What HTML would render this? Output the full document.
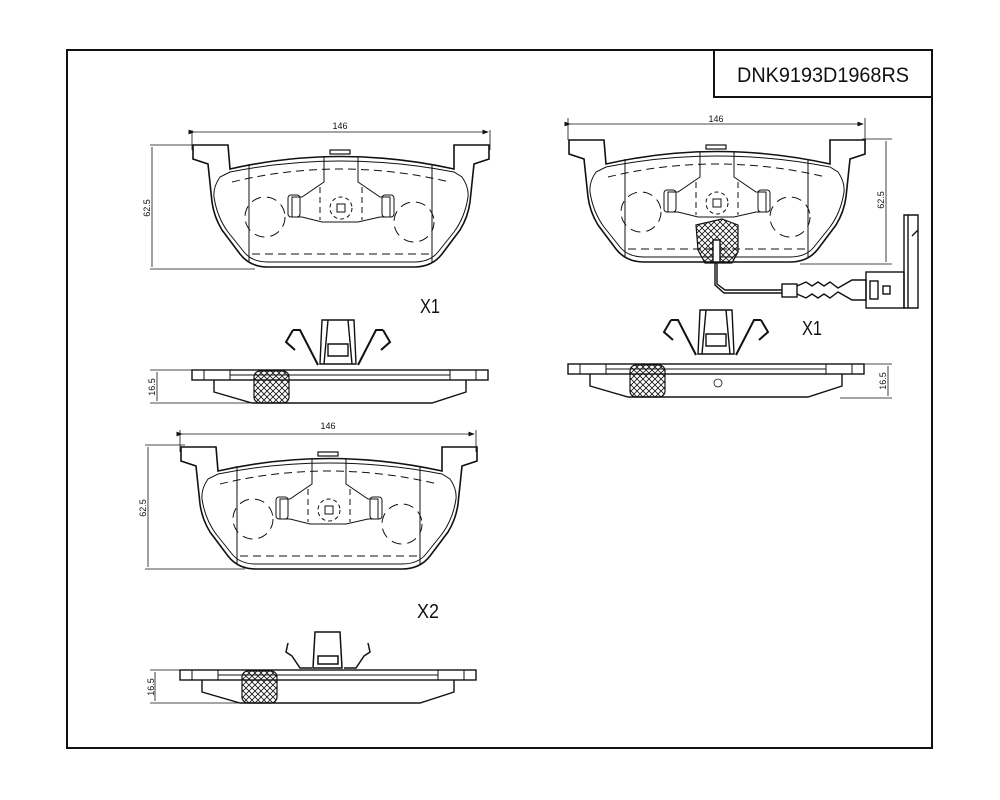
<!DOCTYPE html>
<html><head><meta charset="utf-8"><style>
html,body{margin:0;padding:0;background:#fff;}
svg{display:block;}
text{font-family:"Liberation Sans",sans-serif;fill:#111;}
</style></head><body>
<svg width="1000" height="800" viewBox="0 0 1000 800" xmlns="http://www.w3.org/2000/svg">
<defs>
<pattern id="h" width="6" height="6" patternUnits="userSpaceOnUse">
<path d="M0,0 L6,6 M6,0 L0,6" stroke="#111" stroke-width="0.8"/>
</pattern>
<marker id="a" markerWidth="8" markerHeight="6" refX="7" refY="3" orient="auto"><path d="M0,0 L8,3 L0,6 Z" fill="#111"/></marker>
<g id="pad" fill="none" stroke="#111">
<path stroke-width="1.6" d="M1,3 L36,3 L38,27 Q148,2 262,27 L262,3 L297,3 L297,17 L282,22 L278,60 Q276,75 268,88 L250,112 Q240,125 222,125 L76,125 Q58,125 48,112 L30,88 Q22,75 20,60 L16,22 L1,17 Z"/>
<path stroke-width="1" d="M38,30 Q148,8 262,30 L270,35 Q277,45 276,55 Q273,75 262,90 L246,110 Q238,120 222,120 L76,120 Q60,120 52,110 L36,90 Q25,75 22,55 Q21,45 28,35 Z"/>
<path stroke-width="1" d="M57,22 L57,120 M240,22 L240,120"/>
<path stroke-width="1" stroke-dasharray="8,5" d="M40,40 Q148,14 258,40 M60,112 L240,112"/>
<rect x="138" y="8" width="20" height="4" fill="none" stroke-width="1.2"/>
<path stroke-width="1" d="M132,14 L132,40 L110,55 L100,55 L100,75 L110,75 L130,80 L166,80 L188,75 L198,75 L198,55 L188,55 L166,40 L166,14"/>
<rect x="96" y="53" width="12" height="22" rx="3" stroke-width="1"/>
<rect x="190" y="53" width="12" height="22" rx="3" stroke-width="1"/>
<circle cx="149" cy="66" r="11" stroke-width="1" stroke-dasharray="4,3"/>
<rect x="145" y="62" width="8" height="8" stroke-width="1"/>
<circle cx="73" cy="75" r="20" stroke-width="1" stroke-dasharray="10,6"/>
<circle cx="222" cy="80" r="20" stroke-width="1" stroke-dasharray="10,6"/>
<path stroke-width="1" stroke-dasharray="6,4" d="M128,45 L128,78 M170,45 L170,78"/>
</g>
<g id="side" fill="none" stroke="#111">
<rect x="0" y="0" width="296" height="10" stroke-width="1.4"/>
<path stroke-width="1" d="M12,0 L12,10 M284,0 L284,10 M38,0 L38,10 M258,0 L258,10 M38,5 L258,5"/>
<path stroke-width="1.4" d="M22,10 L22,22 L60,33 L240,33 L274,22 L274,10"/>
<rect x="62" y="1" width="35" height="32" rx="6" fill="url(#h)" stroke-width="1.2"/>
</g>
<g id="clip" fill="none" stroke="#111" stroke-width="2">
<path d="M-45,-22 L-52,-10 L-43,-2 M-45,-22 L-38,-22 L-20,13 M45,-22 L52,-10 L43,-2 M45,-22 L38,-22 L20,13"/>
<path stroke-width="1.4" d="M-16,-32 L16,-32 L18,12 L-18,12 Z M-10,-8 L10,-8 L10,4 L-10,4 Z M-10,-32 L-14,12 M10,-32 L14,12"/>
</g>
</defs>

<rect x="67" y="50" width="865" height="698" fill="none" stroke="#111" stroke-width="2"/>
<rect x="714" y="50" width="218" height="47" fill="none" stroke="#111" stroke-width="2"/>
<text x="737" y="82" font-size="21" textLength="172" lengthAdjust="spacingAndGlyphs">DNK9193D1968RS</text>

<!-- top left pad -->
<use href="#pad" x="192" y="142"/>
<path d="M192,130 L192,150 M490,130 L490,150" stroke="#111" stroke-width="0.8"/>
<line x1="194" y1="132" x2="488" y2="132" stroke="#111" stroke-width="0.8" marker-end="url(#a)" marker-start="url(#a)"/>
<text x="340" y="129" font-size="9" text-anchor="middle">146</text>
<path d="M150,145 L195,145 M150,269 L255,269" stroke="#111" stroke-width="0.8"/>
<line x1="152" y1="147" x2="152" y2="267" stroke="#111" stroke-width="0.8"/>
<text x="150" y="208" font-size="9" text-anchor="middle" transform="rotate(-90 150 208)">62.5</text>
<text x="420" y="313" font-size="20" textLength="20" lengthAdjust="spacingAndGlyphs">X1</text>
<use href="#clip" x="338" y="352"/>
<use href="#side" x="192" y="370"/>
<path d="M150,370 L192,370 M150,403 L250,403 M157,372 L157,401" stroke="#111" stroke-width="0.8"/>
<text x="155" y="387" font-size="9" text-anchor="middle" transform="rotate(-90 155 387)">16.5</text>

<!-- bottom left pad -->
<use href="#pad" x="180" y="444"/>
<path d="M180,430 L180,452 M476,430 L476,452" stroke="#111" stroke-width="0.8"/>
<line x1="182" y1="434" x2="474" y2="434" stroke="#111" stroke-width="0.8" marker-end="url(#a)" marker-start="url(#a)"/>
<text x="328" y="429" font-size="9" text-anchor="middle">146</text>
<path d="M145,445 L185,445 M145,569 L245,569 M148,447 L148,567" stroke="#111" stroke-width="0.8"/>
<text x="146" y="508" font-size="9" text-anchor="middle" transform="rotate(-90 146 508)">62.5</text>
<text x="417" y="618" font-size="20" textLength="22" lengthAdjust="spacingAndGlyphs">X2</text>
<g fill="none" stroke="#111" stroke-width="1.5">
<path d="M288,643 L286,652 L292,656 L300,668 L312,668 M368,643 L370,652 L364,656 L356,668 L344,668"/>
<path d="M315,632 L340,632 L342,668 L313,668 Z M318,656 L338,656 L338,664 L318,664 Z"/>
</g>
<use href="#side" x="180" y="670"/>
<path d="M150,670 L180,670 M150,703 L240,703 M155,672 L155,701" stroke="#111" stroke-width="0.8"/>
<text x="154" y="687" font-size="9" text-anchor="middle" transform="rotate(-90 154 687)">16.5</text>

<!-- top right pad -->
<use href="#pad" x="568" y="137"/>
<path d="M568,118 L568,140 M865,118 L865,140" stroke="#111" stroke-width="0.8"/>
<line x1="570" y1="124" x2="863" y2="124" stroke="#111" stroke-width="0.8" marker-end="url(#a)" marker-start="url(#a)"/>
<text x="716" y="122" font-size="9" text-anchor="middle">146</text>
<path d="M862,139 L892,139 M800,264 L892,264 M886,141 L886,262" stroke="#111" stroke-width="0.8"/>
<text x="884" y="200" font-size="9" text-anchor="middle" transform="rotate(-90 884 200)">62.5</text>
<path d="M696,225 L722,219 L738,225 L738,252 L732,263 L705,263 L698,250 Z" fill="url(#h)" stroke="#111" stroke-width="1.2"/>
<g fill="none" stroke="#111" stroke-width="1.4">
<rect x="713" y="240" width="7" height="22" fill="#fff"/>
<path d="M715,263 L715,285 L724,293 L782,293 M717,263 L717,284 L725,290 L782,290"/>
<rect x="782" y="284" width="15" height="13"/>
<path d="M797,286 L806,282 L812,286 L818,282 L824,286 L830,282 L838,288 L852,280 L866,280 L866,300 L852,300 L838,292 L830,298 L824,294 L818,298 L812,294 L806,298 L797,294"/>
<rect x="866" y="272" width="38" height="36"/>
<rect x="870" y="281" width="8" height="18"/>
<rect x="883" y="286" width="7" height="8"/>
<path d="M904,215 L918,215 L918,308 L904,308 Z M908,215 L908,308 M918,230 L912,236"/>
</g>
<text x="802" y="335" font-size="20" textLength="20" lengthAdjust="spacingAndGlyphs">X1</text>
<use href="#clip" x="716" y="342"/>
<use href="#side" x="568" y="364"/>
<circle cx="718" cy="383" r="4" fill="none" stroke="#111" stroke-width="0.8"/>
<path d="M862,364 L892,364 M840,398 L892,398 M888,366 L888,396" stroke="#111" stroke-width="0.8"/>
<text x="886" y="381" font-size="9" text-anchor="middle" transform="rotate(-90 886 381)">16.5</text>
</svg>
</body></html>
